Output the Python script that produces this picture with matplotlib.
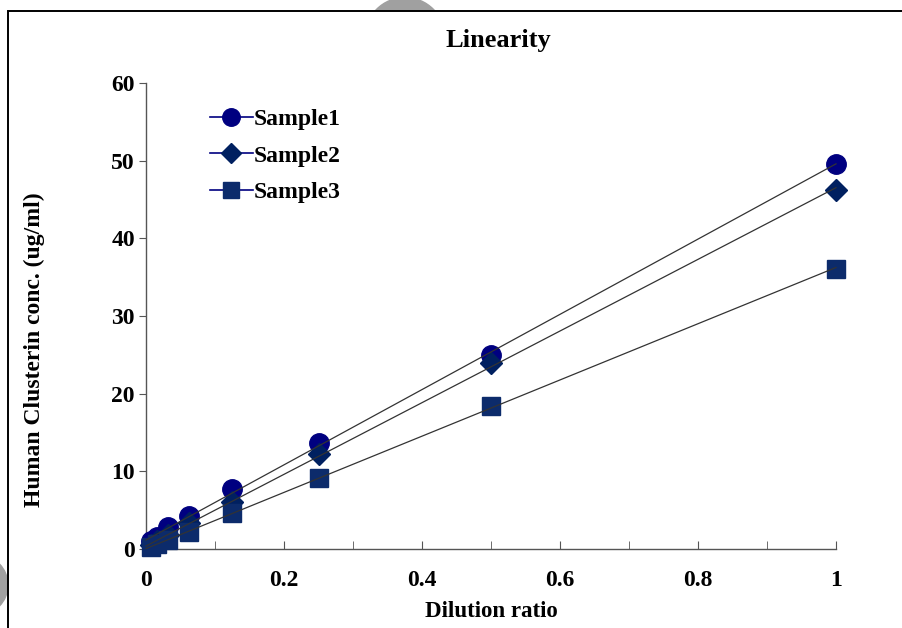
import numpy as np
import matplotlib
matplotlib.use('Agg')
import matplotlib.pyplot as plt
from matplotlib.patches import Rectangle, Circle
from matplotlib.transforms import IdentityTransform

plt.rcParams['font.family'] = ['Liberation Serif', 'DejaVu Serif']
plt.rcParams['font.weight'] = 'bold'

# data
dilution = [1, 0.5, 0.25, 0.125, 0.0625, 0.03125, 0.015625, 0.0078125]
sample1 = [49.6, 25.0, 13.7, 7.7, 4.3, 2.8, 1.6, 1.0]
sample2 = [46.2, 24.0, 12.2, 6.0, 3.3, 1.8, 1.0, 0.5]
sample3 = [36.1, 18.4, 9.2, 4.6, 2.2, 1.1, 0.6, 0.3]
names = ['Sample1', 'Sample2', 'Sample3']
xticks = [0, 0.2, 0.4, 0.6, 0.8, 1]
yticks = [0, 10, 20, 30, 40, 50, 60]

W, H = 902, 628
fig = plt.figure(figsize=(9.02, 6.28), dpi=100)
ax = fig.add_axes([146/W, 1 - 549/H, 690/W, 466/H])

markers = ['o', 'D', 's']
sizes = [14, 11, 13]
colors = ['#000080', '#002060', '#0c2b6b']
x = np.array(dilution)
for ys, name, m, ms, c in zip([sample1, sample2, sample3], names, markers, sizes, colors):
    ys = np.array(ys)
    ax.plot(x, ys, ls='none', marker=m, ms=ms, color=c, mec=c, zorder=3, clip_on=False)
    # legend proxy
    ax.plot([], [], color='#000080', lw=1.2, marker=m, ms=ms * 0.9, mfc=c, mec=c, label=name)
    k, b = np.polyfit(x, ys, 1)
    xx = np.array([0, 1])
    ax.plot(xx, k * xx + b, color='#333333', lw=0.9, zorder=4, clip_on=False)

ax.set_xlim(0, 1)
ax.set_ylim(0, 60)
ax.set_xticks(xticks)
ax.set_xticklabels(['0', '0.2', '0.4', '0.6', '0.8', '1'])
ax.set_xticks(np.arange(0, 1.01, 0.1), minor=True)
ax.set_yticks(yticks)
ax.tick_params(axis='x', which='both', direction='in', length=6, labelsize=17, pad=15, color='#555555')
ax.tick_params(axis='y', direction='out', length=5, labelsize=17, pad=3, color='#555555')
for s in ['top', 'right']:
    ax.spines[s].set_visible(False)
for s in ['left', 'bottom']:
    ax.spines[s].set_color('#555555')
    ax.spines[s].set_linewidth(1.0)

ax.set_xlabel('Dilution ratio', fontsize=16.5, fontweight='bold', labelpad=7)
ax.set_ylabel('Human Clusterin conc. (ug/ml)', fontsize=17, fontweight='bold')
ax.yaxis.set_label_coords((45 - 146) / 690, (549 - 350) / 466)
fig.text(498/W, 1 - 40/H, 'Linearity', ha='center', va='center', fontsize=19, fontweight='bold')

leg = ax.legend(loc='upper left', bbox_to_anchor=(0.062, 0.99), frameon=False,
                fontsize=17, handlelength=1.8, handletextpad=0.05, labelspacing=0.62)

# outer frame and background marks (pixel coordinates, origin bottom-left)
px = IdentityTransform()
fig.patches.append(Rectangle((8, -10), W, H - 11 + 10, transform=px,
                             fill=False, ec='black', lw=1.4, zorder=6))
top_clip = Rectangle((0, H - 11), W, 11, transform=px, visible=False)
fig.patches.append(top_clip)
c1 = Circle((405, H - 37.5), 40, transform=px, color='#a0a0a0', zorder=5)
fig.patches.append(c1)
c1.set_clip_path(top_clip)
left_clip = Rectangle((0, 0), 8, H, transform=px, visible=False)
fig.patches.append(left_clip)
c2 = Circle((-22, H - 585), 30, transform=px, color='#a0a0a0', zorder=5)
fig.patches.append(c2)
c2.set_clip_path(left_clip)

fig.savefig('out.png', dpi=100)
